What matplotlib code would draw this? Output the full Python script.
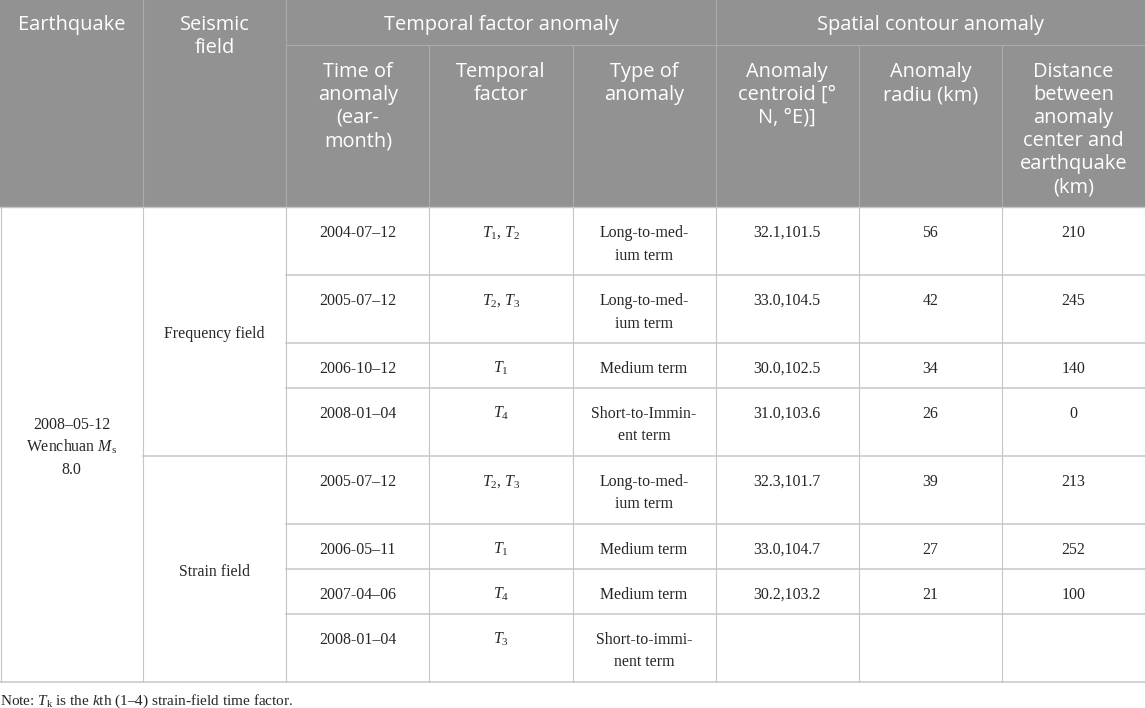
import matplotlib
matplotlib.use("Agg")
import matplotlib.pyplot as plt
from matplotlib.patches import Rectangle

plt.rcParams['mathtext.fontset'] = 'custom'
plt.rcParams['mathtext.rm'] = 'Liberation Serif'
plt.rcParams['mathtext.it'] = 'Liberation Serif:italic'

# ---------------- data ----------------
earthquake = "2008–05-12\nWenchuan $M_\\mathrm{s}$\n8.0"
fields = ["Frequency field", "Strain field"]
field_rows = [4, 4]
times = ["2004-07–12", "2005-07–12", "2006-10–12", "2008-01–04",
         "2005-07–12", "2006-05–11", "2007-04–06", "2008-01–04"]
factors = ["$T_1$, $T_2$", "$T_2$, $T_3$", "$T_1$", "$T_4$",
           "$T_2$, $T_3$", "$T_1$", "$T_4$", "$T_3$"]
types = ["Long-to-med-\nium term", "Long-to-med-\nium term", "Medium term",
         "Short-to-Immin-\nent term", "Long-to-med-\nium term", "Medium term",
         "Medium term", "Short-to-immi-\nnent term"]
centroids = ["32.1,101.5", "33.0,104.5", "30.0,102.5", "31.0,103.6",
             "32.3,101.7", "33.0,104.7", "30.2,103.2", ""]
radii = ["56", "42", "34", "26", "39", "27", "21", ""]
distances = ["210", "245", "140", "0", "213", "252", "100", ""]

group_headers = ["Temporal factor anomaly", "Spatial contour anomaly"]
top_headers = ["Earthquake", "Seismic\nfield"]
sub_headers = ["Time of\nanomaly\n(ear-\nmonth)", "Temporal\nfactor", "Type of\nanomaly",
               "Anomaly\ncentroid [°\nN, °E)]", "Anomaly\nradiu (km)",
               "Distance\nbetween\nanomaly\ncenter and\nearthquake\n(km)"]
note = "Note: $T_\\mathrm{k}$ is the $k$th (1–4) strain-field time factor."

# ---------------- layout ----------------
W, H = 1145, 708
ncol = 8
cw = W / ncol
LH = 23          # line step (px)
PAD = 22         # vertical padding per cell (px)
top_h = 45
sub_h = 162
head_h = top_h + sub_h

hdr_bg = '#929292'
hdr_line = '#ababab'
body_line = '#c6c6c6'
txt = '#262626'

head_font = dict(family='Open Sans', fontsize=14.4, color='white')
body_font = dict(family='Liberation Serif', fontsize=11.4, color=txt)

fig = plt.figure(figsize=(W / 100, H / 100), dpi=100)
ax = fig.add_axes([0, 0, 1, 1])
ax.set_xlim(0, W)
ax.set_ylim(H, 0)
ax.axis('off')


def put_lines(text, xc, y_base, step, **kw):
    for i, line in enumerate(text.split("\n")):
        ax.text(xc, y_base + i * step, line, ha='center', va='baseline', **kw)


def put_center(text, xc, yc, step, **kw):
    lines = text.split("\n")
    n = len(lines)
    for i, line in enumerate(lines):
        ax.text(xc, yc + 7 + (i - (n - 1) / 2) * step, line,
                ha='center', va='baseline', **kw)


# header background
ax.add_patch(Rectangle((0, 0), W, head_h, facecolor=hdr_bg, edgecolor='none'))

# header texts
for j, t in enumerate(top_headers):
    put_lines(t, (j + 0.5) * cw, 30, LH, **head_font)
for g, t in enumerate(group_headers):
    x0 = (2 + 3 * g) * cw
    put_lines(t, x0 + 1.5 * cw, 30, LH, **head_font)
for j, t in enumerate(sub_headers):
    put_lines(t, (2 + j + 0.5) * cw, top_h + 32, LH, **head_font)

# header grid
for j in range(1, ncol):
    y0 = 0 if j in (1, 2, 5) else top_h
    ax.plot([j * cw, j * cw], [y0, head_h], color=hdr_line, lw=0.8)
ax.plot([2 * cw, W], [top_h, top_h], color=hdr_line, lw=0.8)

# body rows
cols = [times, factors, types, centroids, radii, distances]
nrows = len(times)
heights = [PAD + LH * max(len(c[i].split("\n")) for c in cols) for i in range(nrows)]
tops = [head_h]
for h in heights:
    tops.append(tops[-1] + h)
body_bottom = tops[-1]

for i in range(nrows):
    for j, c in enumerate(cols):
        if c[i]:
            put_lines(c[i], (2 + j + 0.5) * cw, tops[i] + 30, 22.5, **body_font)

# merged cells
put_center(earthquake, 0.5 * cw, (head_h + body_bottom) / 2, 22.5, **body_font)
r = 0
for f, n in zip(fields, field_rows):
    put_center(f, 1.5 * cw, (tops[r] + tops[r + n]) / 2, 22.5, **body_font)
    r += n

# body grid
for j in range(0, ncol + 1):
    x = min(max(j * cw, 0.5), W - 0.5)
    ax.plot([x, x], [head_h, body_bottom], color=body_line, lw=0.8)
r = 0
field_breaks = set()
for n in field_rows:
    r += n
    field_breaks.add(r)
for i in range(1, nrows):
    x0 = 1 * cw if i in field_breaks else 2 * cw
    ax.plot([x0, W], [tops[i], tops[i]], color=body_line, lw=1.1)
ax.plot([0, W], [head_h, head_h], color=body_line, lw=1.0)
ax.plot([0, W], [body_bottom, body_bottom], color=body_line, lw=1.1)

# note
ax.text(0, body_bottom + 23, note, ha='left', va='baseline',
        family='Liberation Serif', fontsize=11.0, color=txt)

fig.savefig("out.png", dpi=100)
